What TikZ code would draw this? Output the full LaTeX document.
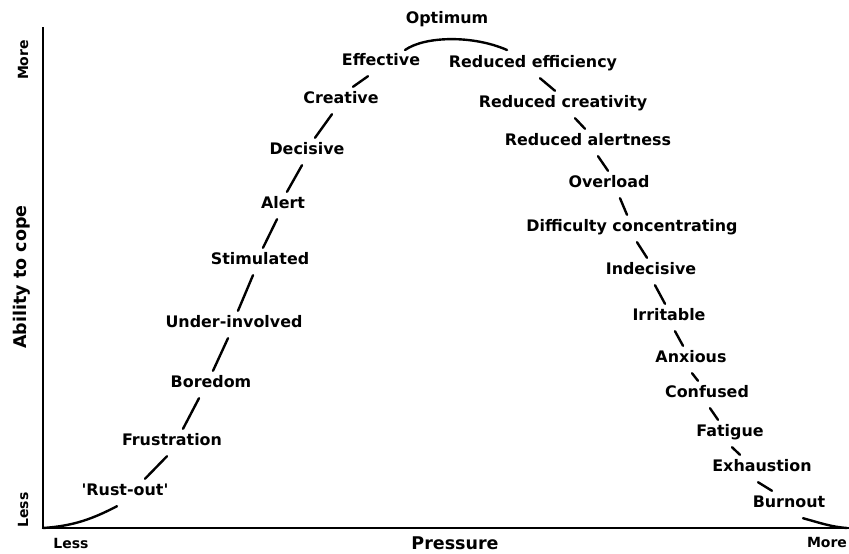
\documentclass[tikz,border=0pt]{standalone}
\usepackage{fontspec}
\setmainfont{DejaVu Sans}
\begin{document}
\begin{tikzpicture}[x=1pt,y=-1pt,
  lbl/.style={font=\fontsize{15.9}{18}\selectfont\bfseries, inner xsep=2pt, inner ysep=4pt, text height=12.6pt, text depth=6.4pt},
  axlbl/.style={font=\fontsize{14}{16}\selectfont\bfseries, inner sep=0pt},
  axtitle/.style={font=\fontsize{17.5}{20}\selectfont\bfseries, inner sep=0pt},
  curve/.style={line width=2.4pt, line cap=round},
  axisline/.style={line width=2.6pt, line join=miter}]
\useasboundingbox (0,0) rectangle (849,554);
\coordinate (origin) at (43,528);
\coordinate (ytop) at (43,27);
\coordinate (xend) at (849,528);
\coordinate (cend) at (847,528);
\draw[axisline] (ytop) -- (origin) -- (xend);
% axis labels
\node[axlbl, rotate=90] (ymore) at (23,60) {More};
\node[axlbl, rotate=90] (yless) at (23,510) {Less};
\node[axtitle, rotate=90] (ytitle) at (22,277) {Ability to cope};
\node[axlbl] (xless) at (71,543) {Less};
\node[axlbl] (xmore) at (827,542) {More};
\node[axtitle] (xtitle) at (455,543) {Pressure};
% curve labels
\node[lbl] (rust) at (125,492.5) {\textquotesingle Rust-out\textquotesingle};
\node[lbl] (frust) at (172,442.5) {Frustration};
\node[lbl] (bore) at (211,384.5) {Boredom};
\node[lbl] (under) at (234,324.5) {Under-involved};
\node[lbl] (stim) at (260,261.5) {Stimulated};
\node[lbl] (alert) at (283,205.5) {Alert};
\node[lbl] (decis) at (307,151.5) {Decisive};
\node[lbl] (creat) at (341,100.5) {Creative};
\node[lbl] (eff) at (381,62.5) {Effective};
\node[lbl] (opt) at (447,20.5) {Optimum};
\node[lbl] (redeff) at (533,64.5) {Reduced efficiency};
\node[lbl] (redcre) at (563,104.5) {Reduced creativity};
\node[lbl] (redale) at (588,142.5) {Reduced alertness};
\node[lbl] (overl) at (609,184.5) {Overload};
\node[lbl] (diff) at (632,228.5) {Difficulty concentrating};
\node[lbl] (indec) at (651,271.5) {Indecisive};
\node[lbl] (irrit) at (669,317.5) {Irritable};
\node[lbl] (anx) at (691,359.5) {Anxious};
\node[lbl] (conf) at (707,394.5) {Confused};
\node[lbl] (fat) at (730,433.5) {Fatigue};
\node[lbl] (exh) at (762,468.5) {Exhaustion};
\node[lbl] (burn) at (789,504.5) {Burnout};
% rising side
\draw[curve] (origin) .. controls +(30,-2) and +(-25,13) .. ([xshift=-8pt]rust.south);
\draw[curve] ([xshift=20pt]rust.north) -- ([xshift=-5pt]frust.south);
\draw[curve] ([xshift=11pt]frust.north) -- ([xshift=-12pt]bore.south);
\draw[curve] ([xshift=2pt]bore.north) -- ([xshift=-6pt]under.south);
\draw[curve] ([xshift=4pt]under.north) -- ([xshift=-7pt]stim.south);
\draw[curve] ([xshift=3pt]stim.north) -- ([xshift=-6pt]alert.south);
\draw[curve] ([xshift=4pt]alert.north) -- ([xshift=-5pt]decis.south);
\draw[curve] ([xshift=8pt]decis.north) -- ([xshift=-9pt]creat.south);
\draw[curve] ([xshift=12pt]creat.north) -- ([xshift=-13pt]eff.south);
% top arc
\draw[curve] ([shift={(24,-12.5)}]eff.center) .. controls +(20,-14) and +(-34,-15) .. ([shift={(-26,-14.5)}]redeff.center);
% falling side
\draw[curve] ([xshift=7pt]redeff.south) -- ([xshift=-8pt]redcre.north);
\draw[curve] ([xshift=12pt]redcre.south) -- ([xshift=-3pt]redale.north);
\draw[curve] ([xshift=10pt]redale.south) -- ([xshift=-1pt]overl.north);
\draw[curve] ([xshift=11pt]overl.south) -- ([xshift=-5pt]diff.north);
\draw[curve] ([xshift=5pt]diff.south) -- ([xshift=-4pt]indec.north);
\draw[curve] ([xshift=4pt]indec.south) -- ([xshift=-4pt]irrit.north);
\draw[curve] ([xshift=6pt]irrit.south) -- ([xshift=-8pt]anx.north);
\draw[curve] ([xshift=1pt]anx.south) -- ([xshift=-9pt]conf.north);
\draw[curve] ([xshift=3pt]conf.south) -- ([xshift=-12pt]fat.north);
\draw[curve] ([xshift=2pt]fat.south) -- ([xshift=-22pt]exh.north);
\draw[curve] ([xshift=-4pt]exh.south) -- ([xshift=-17pt]burn.north);
\draw[curve] ([xshift=14pt]burn.south) .. controls +(18,5) and +(-15,-1) .. (cend);
\end{tikzpicture}
\end{document}
